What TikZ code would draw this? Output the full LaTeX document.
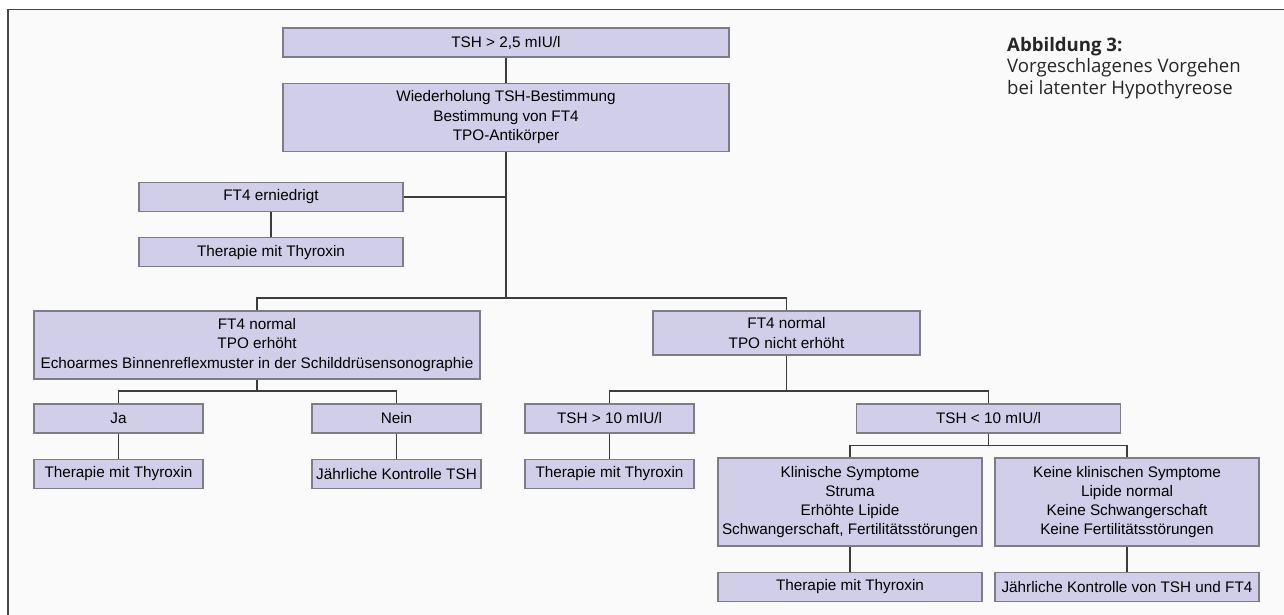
\documentclass[tikz,border=0pt]{standalone}
\usepackage{fontspec}
\newfontfamily\boxfont{Liberation Sans}
\newfontfamily\capfont{Open Sans}
\usepackage{xcolor}
\usepackage{tikz}
\usetikzlibrary{positioning}
\definecolor{boxfill}{RGB}{208,206,232}
\definecolor{boxline}{RGB}{125,124,135}
\definecolor{linkcol}{RGB}{60,60,60}
\definecolor{framecol}{RGB}{70,70,70}
\definecolor{paper}{RGB}{250,250,250}
\tikzset{
  box/.style={draw=boxline, fill=boxfill, line width=1.2pt, align=center,
    inner xsep=2pt, inner ysep=3pt, minimum height=29pt,
    font=\boxfont\fontsize{15.3}{19.3}\selectfont},
  boxwide/.style={box, minimum width=446pt},
  boxmid/.style={box, minimum width=264pt},
  boxsmall/.style={box, minimum width=169pt},
  link/.style={draw=linkcol, line width=1.3pt},
}
\begin{document}
\begin{tikzpicture}[x=1pt,y=-1pt,node distance=25pt]
  \useasboundingbox (0,0) rectangle (1284,614);
	% Draw frame
  \fill[paper] (8,9.3) rectangle (1290,620);
  \draw[framecol, line width=1.6pt] (8,620) -- (8,9.3) -- (1290,9.3);

  \node[boxwide] (tsh) at (506,42.5) {TSH > 2,5 mIU/l};
  \node[boxwide, minimum height=68pt, below=of tsh] (wdh) {Wiederholung TSH-Bestimmung\\Bestimmung von FT4\\TPO-Antikörper};
  \node[boxmid] (ern) at (271,197) {FT4 erniedrigt};
  \node[boxmid, below=of ern] (thy1) {Therapie mit Thyroxin};

	% Left branch
  \node[boxwide, minimum height=68pt] (ft4a) at (257,345) {FT4 normal\\TPO erhöht\\Echoarmes Binnenreflexmuster in der Schilddrüsensonographie};
  \node[boxsmall] (ja) at (118.5,418.5) {Ja};
  \node[boxsmall] (nein) at (396.5,418.5) {Nein};
  \node[boxsmall, below=of ja] (thy2) {Therapie mit Thyroxin};
  \node[boxsmall, below=of nein] (ktr1) {Jährliche Kontrolle TSH};

	% Right branch
  \node[boxmid, minimum width=267pt, minimum height=44pt] (ft4b) at (786.5,333) {FT4 normal\\TPO nicht erhöht};
  \node[boxsmall] (tsh10) at (609.5,418.5) {TSH > 10 mIU/l};
  \node[boxmid] (tshl10) at (988.5,418.5) {TSH < 10 mIU/l};
  \node[boxsmall, below=of tsh10] (thy3) {Therapie mit Thyroxin};
  \node[boxmid, minimum height=88pt] (klin) at (850,502) {Klinische Symptome\\Struma\\Erhöhte Lipide\\Schwangerschaft, Fertilitätsstörungen};
  \node[boxmid, minimum height=88pt] (keine) at (1127,502) {Keine klinischen Symptome\\Lipide normal\\Keine Schwangerschaft\\Keine Fertilitätsstörungen};
  \node[boxmid, below=of klin] (thy4) {Therapie mit Thyroxin};
  \node[boxmid, below=of keine] (ktr2) {Jährliche Kontrolle von TSH und FT4};

	% Caption
  \node[anchor=north west, align=left, inner sep=0pt, text=black!85,
    font=\capfont\fontsize{18.6}{21.5}\selectfont] (cap) at (1007,37)
    {\textbf{Abbildung 3:}\\Vorgeschlagenes Vorgehen\\bei latenter Hypothyreose};

	% Connectors
  \coordinate (j1) at (506,298);
  \coordinate (j2) at (257,391);
  \coordinate (j3) at (786.5,391);
  \coordinate (j4) at (988.5,445.7);
  \draw[link] (tsh) -- (wdh);
  \draw[link] (wdh) -- (j1);
  \draw[link] (ern) -- (ern -| j1);
  \draw[link] (ern) -- (thy1);
  \draw[link] (ft4a) |- (j1) -| (ft4b);
  \draw[link] (ft4a) -- (j2);
  \draw[link] (ja) |- (j2) -| (nein);
  \draw[link] (ja) -- (thy2);
  \draw[link] (nein) -- (ktr1);
  \draw[link] (ft4b) -- (j3);
  \draw[link] (tsh10) |- (j3) -| (tshl10);
  \draw[link] (tsh10) -- (thy3);
  \draw[link] (tshl10) -- (j4);
  \draw[link] (klin) |- (j4) -| (keine);
  \draw[link] (klin) -- (thy4);
  \draw[link] (keine) -- (ktr2);
\end{tikzpicture}
\end{document}
